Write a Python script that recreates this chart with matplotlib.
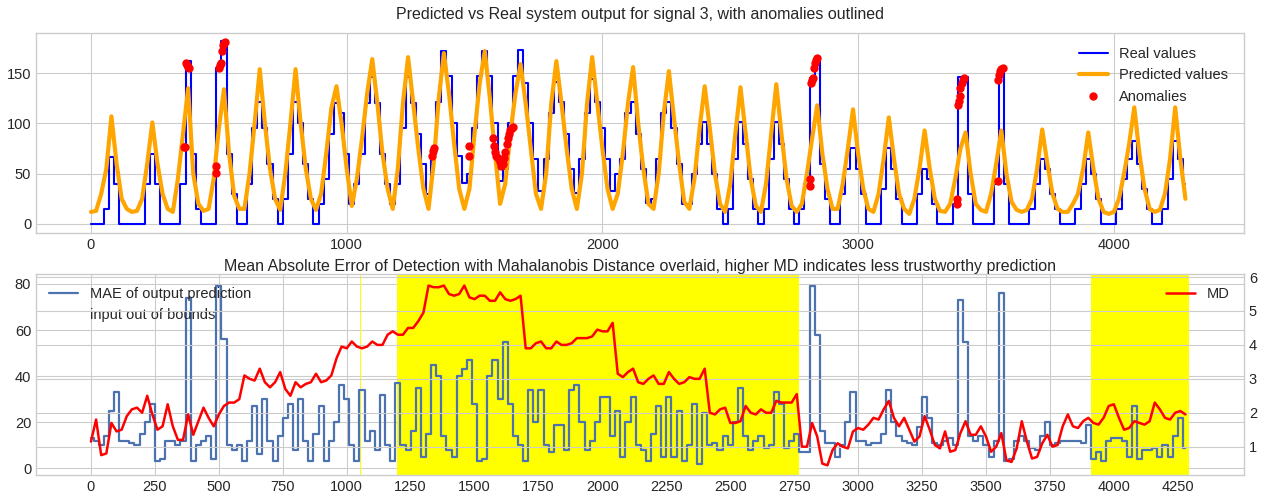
import numpy as np
import matplotlib
matplotlib.use("Agg")
import matplotlib.pyplot as plt
from matplotlib.patches import Patch

plt.style.use("seaborn-v0_8-whitegrid")
plt.rcParams["font.family"] = ["Liberation Sans", "DejaVu Sans"]

# ---------------- data (sampled every 20 time steps) ----------------
sample_step = 20

real_values = [
    0, 0, 0, 15, 67, 40, 0, 0, 0, 0,
    0, 40, 70, 40, 0, 0, 0, 0, 40, 162,
    70, 15, 0, 0, 0, 155, 182, 70, 30, 0,
    0, 40, 95, 121, 95, 60, 25, 0, 25, 70,
    121, 100, 60, 25, 0, 20, 45, 90, 120, 110,
    70, 20, 40, 70, 120, 146, 120, 70, 40, 20,
    40, 95, 146, 120, 90, 60, 30, 70, 121, 172,
    147, 100, 68, 41, 50, 95, 147, 172, 147, 100,
    43, 55, 100, 147, 173, 140, 100, 65, 33, 65,
    110, 141, 121, 90, 55, 31, 65, 110, 144, 121,
    95, 65, 33, 50, 65, 110, 121, 90, 55, 21,
    25, 65, 110, 121, 95, 60, 20, 20, 50, 80,
    101, 80, 50, 15, 0, 15, 65, 101, 80, 45,
    15, 0, 15, 65, 101, 80, 45, 15, 0, 15,
    40, 145, 166, 60, 25, 0, 0, 30, 55, 76,
    55, 30, 0, 0, 0, 35, 76, 55, 25, 0,
    0, 0, 30, 55, 45, 20, 0, 0, 0, 20,
    146, 146, 30, 0, 0, 0, 0, 40, 154, 40,
    0, 0, 0, 0, 15, 40, 65, 55, 30, 15,
    0, 0, 0, 15, 40, 65, 50, 25, 0, 0,
    0, 15, 45, 65, 83, 60, 35, 15, 0, 0,
    15, 45, 83, 65, 40,
]

predicted_values = [
    12, 13, 30, 55, 107, 60, 25, 15, 12, 13,
    25, 60, 101, 60, 30, 15, 12, 45, 90, 135,
    50, 20, 13, 15, 45, 95, 134, 70, 28, 15,
    15, 50, 100, 154, 100, 55, 25, 14, 50, 100,
    154, 100, 55, 25, 14, 30, 70, 115, 137, 100,
    55, 18, 45, 85, 130, 164, 120, 70, 35, 15,
    55, 120, 166, 120, 75, 35, 15, 60, 125, 170,
    130, 80, 35, 15, 35, 90, 140, 172, 125, 70,
    20, 40, 90, 130, 159, 120, 75, 30, 15, 50,
    120, 162, 120, 75, 35, 15, 50, 120, 166, 120,
    75, 35, 15, 30, 70, 120, 156, 100, 55, 20,
    15, 50, 110, 152, 105, 60, 22, 15, 45, 95,
    137, 95, 50, 20, 12, 40, 90, 136, 90, 45,
    18, 12, 40, 90, 139, 90, 45, 18, 12, 20,
    50, 85, 118, 70, 35, 15, 15, 40, 75, 114,
    70, 35, 15, 12, 30, 65, 106, 65, 30, 15,
    10, 25, 55, 93, 55, 25, 13, 12, 20, 45,
    75, 91, 50, 20, 14, 12, 30, 60, 93, 50,
    22, 14, 12, 14, 25, 55, 94, 60, 30, 15,
    12, 12, 20, 30, 55, 91, 55, 25, 12, 10,
    12, 25, 50, 80, 116, 70, 35, 15, 12, 14,
    30, 65, 116, 65, 25,
]

anomaly_x = [365, 368, 372, 375, 380, 384,
             490, 490, 500, 505, 510, 512, 515, 520, 525,
             1332, 1336, 1340, 1478, 1480,
             1572, 1575, 1580, 1585, 1590, 1600, 1605, 1610, 1615, 1620,
             1625, 1630, 1635, 1640, 1645, 1650,
             2812, 2812, 2815, 2818, 2822, 2826, 2830, 2834, 2838,
             3388, 3388, 3390, 3393, 3397, 3400, 3405, 3410, 3415,
             3546, 3546, 3550, 3555, 3560, 3565]
anomaly_y = [77, 77, 160, 158, 156, 155,
             58, 51, 155, 158, 160, 172, 178, 180, 181,
             68, 73, 76, 78, 68,
             86, 78, 72, 68, 66, 62, 58, 60, 66, 72,
             80, 86, 90, 93, 95, 96,
             45, 38, 140, 143, 145, 155, 160, 163, 165,
             25, 20, 118, 122, 127, 135, 140, 143, 145,
             43, 143, 148, 152, 154, 155]

mae_values = [
    13, 12, 10, 14, 25, 33, 12, 12, 11, 10,
    15, 20, 28, 3, 4, 12, 12, 10, 12, 74,
    3, 10, 12, 14, 4, 79, 56, 10, 8, 10,
    3, 12, 27, 6, 30, 12, 3, 14, 22, 28,
    8, 30, 12, 3, 15, 27, 3, 12, 20, 36,
    30, 10, 3, 34, 12, 16, 8, 32, 10, 3,
    37, 10, 8, 16, 35, 5, 15, 45, 40, 14,
    8, 5, 40, 43, 47, 28, 3, 4, 40, 47,
    30, 55, 28, 14, 10, 3, 34, 20, 34, 10,
    7, 19, 19, 8, 34, 36, 20, 8, 12, 20,
    31, 31, 14, 25, 5, 20, 31, 10, 8, 3,
    15, 27, 5, 31, 5, 25, 3, 10, 28, 2,
    24, 10, 11, 8, 14, 10, 20, 35, 14, 8,
    12, 14, 9, 10, 33, 28, 9, 12, 15, 7,
    7, 79, 58, 16, 11, 11, 5, 10, 20, 33,
    12, 12, 10, 11, 11, 15, 34, 20, 14, 12,
    11, 10, 18, 31, 22, 11, 10, 12, 13, 10,
    73, 55, 14, 12, 14, 10, 5, 12, 76, 3,
    4, 12, 14, 12, 9, 8, 14, 20, 10, 11,
    12, 12, 12, 12, 11, 19, 4, 7, 3, 12,
    13, 13, 12, 5, 27, 4, 8, 8, 9, 5,
    10, 5, 14, 22, 9,
]

md_values = [
    1.15, 1.8, 0.75, 0.8, 1.7, 1.45, 1.5, 1.9, 2.1, 2.15,
    2.0, 2.5, 1.95, 1.5, 1.6, 2.25, 1.6, 1.2, 1.2, 1.95,
    1.35, 1.75, 2.15, 1.85, 1.6, 1.95, 2.2, 2.3, 2.3, 2.4,
    3.1, 3.0, 2.95, 3.3, 2.9, 2.75, 2.9, 3.2, 2.7, 2.5,
    2.9, 2.75, 2.85, 2.9, 3.15, 2.9, 2.95, 3.1, 3.6, 3.95,
    3.9, 4.1, 3.95, 3.9, 3.95, 4.1, 4.0, 4.0, 4.3, 4.4,
    4.3, 4.3, 4.5, 4.5, 4.7, 4.95, 5.75, 5.7, 5.7, 5.75,
    5.5, 5.45, 5.5, 5.75, 5.4, 5.35, 5.45, 5.45, 5.3, 5.3,
    5.55, 5.35, 5.3, 5.35, 5.45, 3.9, 3.9, 4.05, 4.1, 3.9,
    3.9, 4.1, 4.0, 4.0, 4.05, 4.2, 4.2, 4.2, 4.25, 4.45,
    4.4, 4.4, 4.65, 3.15, 3.05, 3.2, 3.3, 2.9, 2.85, 3.0,
    3.1, 2.85, 2.85, 3.2, 3.0, 2.85, 2.9, 3.05, 3.0, 3.0,
    3.3, 2.0, 1.95, 2.1, 2.15, 1.7, 1.7, 1.75, 2.2, 2.0,
    1.95, 2.1, 2.0, 2.0, 2.35, 2.3, 2.3, 2.3, 2.55, 1.0,
    1.0, 1.7, 1.3, 0.5, 0.45, 0.9, 1.1, 1.0, 0.95, 1.45,
    1.55, 1.5, 1.65, 1.85, 1.8, 2.1, 2.35, 1.85, 1.6, 1.85,
    1.5, 1.15, 1.3, 1.9, 1.5, 1.05, 0.95, 1.45, 0.85, 0.9,
    1.4, 1.75, 1.35, 1.35, 1.6, 1.3, 0.85, 1.0, 1.4, 0.6,
    0.55, 0.95, 1.75, 1.15, 0.65, 0.7, 1.1, 1.35, 1.0, 1.05,
    1.6, 1.95, 1.6, 1.55, 1.75, 1.85, 1.7, 1.65, 1.85, 2.2,
    2.25, 1.85, 1.5, 1.55, 1.75, 1.7, 1.65, 1.75, 2.3, 2.1,
    1.85, 1.8, 2.0, 2.05, 1.95,
]

oob_spans = [(1051, 1055), (1197, 2769), (3911, 4294)]

top_title = "Predicted vs Real system output for signal 3, with anomalies outlined"
bottom_title = ("Mean Absolute Error of Detection with Mahalanobis Distance overlaid, "
                "higher MD indicates less trustworthy prediction")

# ---------------- figure ----------------
W, H = 1262, 495
fig = plt.figure(figsize=(W / 100, H / 100), dpi=100)
fs = 10.5
fs_title = 11.5

ax1 = fig.add_axes([36 / W, 1 - 233 / H, 1208 / W, 200 / H])
t_real = np.arange(len(real_values)) * sample_step
t_pred = np.arange(len(predicted_values)) * sample_step
ax1.plot(t_real, real_values, color="blue", lw=1.5, drawstyle="steps-mid",
         label="Real values")
ax1.plot(t_pred, predicted_values, color="orange", lw=3.0, label="Predicted values")
ax1.plot(anomaly_x, anomaly_y, "o", color="red", ms=5, label="Anomalies")
ax1.set_xlim(-215, 4509)
ax1.set_ylim(-9, 190)
ax1.set_xticks([0, 1000, 2000, 3000, 4000])
ax1.set_yticks([0, 50, 100, 150])
ax1.tick_params(labelsize=fs)
ax1.set_title(top_title, fontsize=fs_title, pad=10)
ax1.legend(loc="upper right", fontsize=fs, frameon=False, numpoints=1,
           bbox_to_anchor=(0.998, 0.995))

ax2 = fig.add_axes([36 / W, 1 - 475 / H, 1208 / W, 201 / H])
for a, b in oob_spans:
    ax2.axvspan(a, b, color="yellow", lw=0, zorder=1)
t_mae = np.arange(len(mae_values)) * sample_step
ax2.plot(t_mae, mae_values, color="#4c72b0", lw=1.6, zorder=2,
         drawstyle="steps-mid", label="MAE of output prediction")
ax2.set_xlim(-215, 4509)
ax2.set_ylim(-2.9, 84.3)
ax2.set_xticks(np.arange(0, 4251, 250))
ax2.set_yticks([0, 20, 40, 60, 80])
ax2.tick_params(labelsize=fs)
ax2.set_title(bottom_title, fontsize=fs_title, pad=2)
h1, l1 = ax2.get_legend_handles_labels()
h1.append(Patch(facecolor="none", edgecolor="none"))
l1.append("input out of bounds")
ax2.legend(h1, l1, loc="upper left", fontsize=fs, frameon=False,
           bbox_to_anchor=(0.0, 1.0))

ax3 = ax2.twinx()
t_md = np.arange(len(md_values)) * sample_step
ax3.plot(t_md, md_values, color="red", lw=1.8, label="MD")
ax3.set_ylim(0.165, 6.09)
ax3.set_yticks([1, 2, 3, 4, 5, 6])
ax3.tick_params(labelsize=fs)
ax3.legend(loc="upper right", fontsize=fs, frameon=False,
           bbox_to_anchor=(0.999, 1.0))
for s in ax3.spines.values():
    s.set_visible(False)

fig.savefig("out.png", dpi=100)
